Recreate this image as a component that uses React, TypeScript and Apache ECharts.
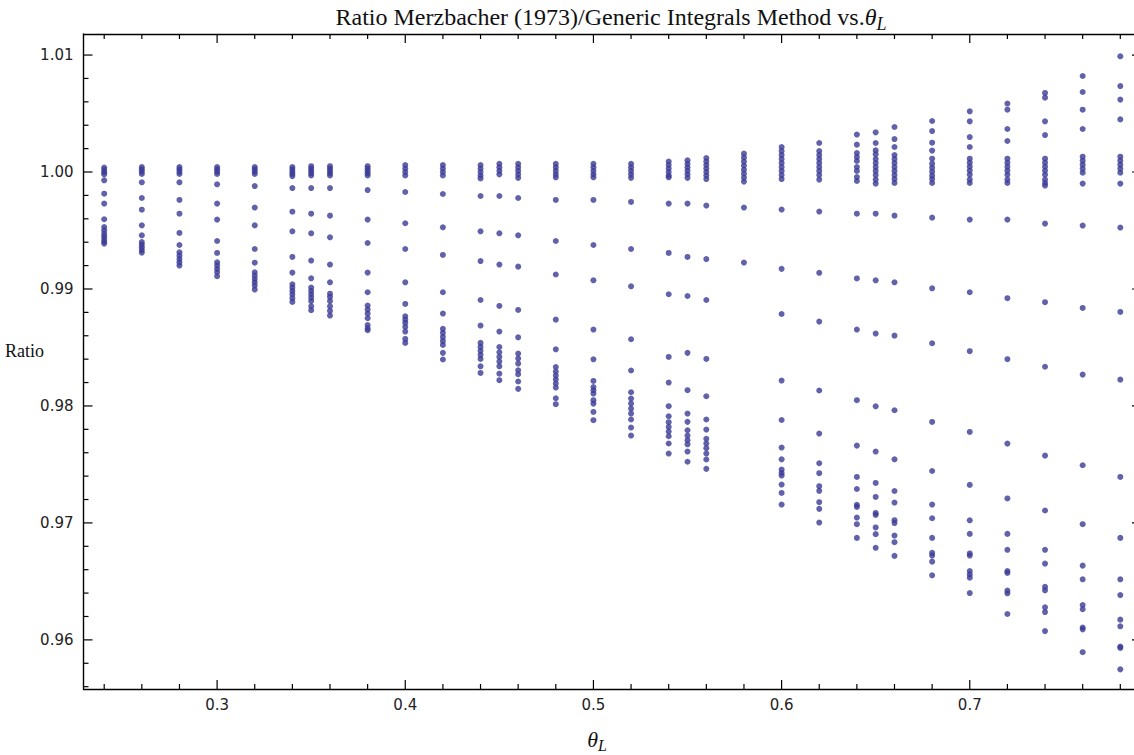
import React, { useEffect, useRef } from "react";
import * as echarts from "echarts";

const thetaL = [0.24, 0.26, 0.28, 0.3, 0.32, 0.34, 0.35, 0.36, 0.38, 0.4, 0.42, 0.44, 0.45, 0.46, 0.48, 0.5, 0.52, 0.54, 0.55, 0.56, 0.58, 0.6, 0.62, 0.64, 0.65, 0.66, 0.68, 0.7, 0.72, 0.74, 0.76, 0.78];

const r024 = [1.00038, 1.00018, 0.99998, 0.9998, 0.99929, 0.99815, 0.9973, 0.99596, 0.9953, 0.99502, 0.99473, 0.9945, 0.99427, 0.99405, 0.99388];
const r026 = [1.00043, 1.00023, 1.00003, 0.99983, 0.99912, 0.99778, 0.99678, 0.99544, 0.99459, 0.99401, 0.99379, 0.99356, 0.99333, 0.99311];
const r028 = [1.00043, 1.00023, 1.00003, 0.99983, 0.99912, 0.99761, 0.99644, 0.99479, 0.99376, 0.99314, 0.99285, 0.99256, 0.99228, 0.992];
const r030 = [1.00043, 1.00023, 1.00003, 0.99983, 0.99895, 0.9973, 0.99593, 0.9941, 0.99308, 0.99228, 0.992, 0.99171, 0.99143, 0.99109];
const r032 = [1.00043, 1.00023, 1.00003, 0.99983, 0.9988, 0.99696, 0.99544, 0.99342, 0.99225, 0.99143, 0.99114, 0.99085, 0.99057, 0.99029, 0.98995];
const r034 = [1.00043, 1.00023, 1.00003, 0.99983, 0.99965, 0.99863, 0.99661, 0.99493, 0.99274, 0.9914, 0.9904, 0.99012, 0.98983, 0.98955, 0.98921, 0.98889];
const r035 = [1.0005, 1.0003, 1.0001, 0.9999, 0.9997, 0.99863, 0.99644, 0.99476, 0.99243, 0.99091, 0.99012, 0.98983, 0.98955, 0.98926, 0.98897, 0.98852, 0.98818];
const r036 = [1.0005, 1.0003, 1.0001, 0.9999, 0.9997, 0.99863, 0.99627, 0.99442, 0.99209, 0.99057, 0.9896, 0.98932, 0.98897, 0.98852, 0.98812, 0.98773];
const r038 = [1.0005, 1.0003, 1.0001, 0.9999, 0.9997, 0.99846, 0.99593, 0.99393, 0.9914, 0.98972, 0.98858, 0.98824, 0.9879, 0.9875, 0.98692, 0.98664, 0.98647];
const r040 = [1.0006, 1.0003, 1.0, 0.9997, 0.99829, 0.99562, 0.99342, 0.99057, 0.98872, 0.98767, 0.98738, 0.9871, 0.98675, 0.98636, 0.98573, 0.98539];
const r042 = [1.0006, 1.0003, 1.0, 0.9997, 0.99812, 0.99527, 0.99291, 0.98972, 0.9879, 0.98659, 0.98625, 0.9859, 0.98556, 0.98522, 0.98454, 0.98397];
const r044 = [1.0006, 1.0003, 1.0, 0.9997, 0.99945, 0.99795, 0.99493, 0.99239, 0.98906, 0.98687, 0.98539, 0.98505, 0.98471, 0.98437, 0.98402, 0.98339, 0.98282];
const r045 = [1.0007, 1.0004, 1.0001, 0.9998, 0.99795, 0.99476, 0.99209, 0.98855, 0.98636, 0.98504, 0.98459, 0.98419, 0.98379, 0.98339, 0.98276, 0.9822];
const r046 = [1.0007, 1.0004, 1.0001, 0.9998, 0.9995, 0.99778, 0.99459, 0.99191, 0.98821, 0.98587, 0.98448, 0.98405, 0.98362, 0.98305, 0.98271, 0.98209, 0.98146];
const r048 = [1.0007, 1.0004, 1.0001, 0.9998, 0.99955, 0.99761, 0.9941, 0.99124, 0.98738, 0.98484, 0.98333, 0.98294, 0.9826, 0.98226, 0.98192, 0.98157, 0.98066, 0.98015];
const r050 = [1.0007, 1.0004, 1.0001, 0.9998, 0.99955, 0.99761, 0.99376, 0.99074, 0.98653, 0.98399, 0.98214, 0.98162, 0.98134, 0.98106, 0.98049, 0.9802, 0.97949, 0.97878];
const r052 = [1.0007, 1.0004, 1.0001, 0.9998, 0.9995, 0.99744, 0.99342, 0.99023, 0.9857, 0.98303, 0.98117, 0.98063, 0.9802, 0.97977, 0.97935, 0.97884, 0.97815, 0.97747];
const r054 = [1.0009, 1.0006, 1.0003, 1.0, 0.9997, 0.99955, 0.9973, 0.99308, 0.98955, 0.98419, 0.982, 0.97998, 0.97912, 0.97861, 0.97821, 0.97781, 0.97741, 0.97679, 0.97593];
const r055 = [1.001, 1.0007, 1.0004, 1.0001, 0.9998, 0.9995, 0.9973, 0.99274, 0.9894, 0.98454, 0.98135, 0.97935, 0.97864, 0.97792, 0.97747, 0.97707, 0.97672, 0.9761, 0.97523];
const r056 = [1.0012, 1.0009, 1.0006, 1.0003, 1.0, 0.9997, 0.9994, 0.99713, 0.99256, 0.98906, 0.98402, 0.98083, 0.97884, 0.97798, 0.97719, 0.97679, 0.97639, 0.97593, 0.97542, 0.97462];
const r058 = [1.00157, 1.00123, 1.00089, 1.00055, 1.0002, 0.99986, 0.99952, 0.99918, 0.99696, 0.99226];
const r060 = [1.00214, 1.00179, 1.00145, 1.00111, 1.00077, 1.00043, 1.00009, 0.99974, 0.9994, 0.99679, 0.99172, 0.98786, 0.98217, 0.9788, 0.97644, 0.97544, 0.97456, 0.97427, 0.97405, 0.97328, 0.97256, 0.97157];
const r062 = [1.00248, 1.00179, 1.00145, 1.00111, 1.00077, 1.00043, 1.00009, 0.99974, 0.99935, 0.99662, 0.99138, 0.98721, 0.98132, 0.97764, 0.9751, 0.97425, 0.97314, 0.97274, 0.97177, 0.9712, 0.97003];
const r064 = [1.0032, 1.00234, 1.00162, 1.00128, 1.00094, 1.00043, 1.00009, 0.99957, 0.99923, 0.99644, 0.9909, 0.98653, 0.98049, 0.97661, 0.97393, 0.9729, 0.97154, 0.97137, 0.97046, 0.96989, 0.96872];
const r065 = [1.00339, 1.00248, 1.00185, 1.00151, 1.00111, 1.00077, 1.00043, 1.00009, 0.99974, 0.99935, 0.99901, 0.99644, 0.99074, 0.98619, 0.97997, 0.9761, 0.97342, 0.97222, 0.97085, 0.97068, 0.96961, 0.96904, 0.96787];
const r066 = [1.00385, 1.00282, 1.00214, 1.00145, 1.00111, 1.00077, 1.00043, 1.00009, 0.99974, 0.9994, 0.99906, 0.99627, 0.99057, 0.98601, 0.97963, 0.97544, 0.97273, 0.97174, 0.97023, 0.96999, 0.96892, 0.96835, 0.96718];
const r068 = [1.00436, 1.0035, 1.00251, 1.00183, 1.00114, 1.00071, 1.00037, 1.00003, 0.99969, 0.9994, 0.99906, 0.9961, 0.99006, 0.98536, 0.97863, 0.97444, 0.97157, 0.9704, 0.96872, 0.96744, 0.96721, 0.96669, 0.96552];
const r070 = [1.00519, 1.00433, 1.00299, 1.00214, 1.00114, 1.0008, 1.00046, 1.00012, 0.99977, 0.99935, 0.99906, 0.99593, 0.98972, 0.98468, 0.97778, 0.97325, 0.97022, 0.96906, 0.96739, 0.96721, 0.96589, 0.9656, 0.96532, 0.964];
const r072 = [1.00585, 1.00533, 1.00368, 1.00265, 1.00114, 1.0008, 1.00046, 1.00012, 0.99977, 0.99935, 0.99906, 0.99593, 0.98921, 0.984, 0.97678, 0.97209, 0.96906, 0.9677, 0.96589, 0.96572, 0.96421, 0.96398, 0.96221];
const r074 = [1.00676, 1.00636, 1.00433, 1.00316, 1.00114, 1.0008, 1.00046, 1.00012, 0.99977, 0.99935, 0.99906, 0.99884, 0.99559, 0.98887, 0.98335, 0.97576, 0.97106, 0.9677, 0.96652, 0.96453, 0.96424, 0.96278, 0.96238, 0.96075];
const r076 = [1.00821, 1.00684, 1.00533, 1.00368, 1.00131, 1.00097, 1.00063, 1.00029, 0.99994, 0.99901, 0.99542, 0.98838, 0.98268, 0.97493, 0.96989, 0.96635, 0.96518, 0.96298, 0.96262, 0.96106, 0.9609, 0.95895];
const r078 = [1.00989, 1.00735, 1.00619, 1.0045, 1.00131, 1.00097, 1.00063, 1.00029, 0.99994, 0.99901, 0.99525, 0.98804, 0.98225, 0.97393, 0.96872, 0.96518, 0.96383, 0.96173, 0.96116, 0.95943, 0.95931, 0.95748];

const ratioColumns = [r024, r026, r028, r030, r032, r034, r035, r036, r038, r040, r042, r044, r045, r046, r048, r050, r052, r054, r055, r056, r058, r060, r062, r064, r065, r066, r068, r070, r072, r074, r076, r078];

const xMajorTicks = [0.3, 0.4, 0.5, 0.6, 0.7];
const xMinorTicks = [0.24, 0.26, 0.28, 0.32, 0.34, 0.36, 0.38, 0.42, 0.44, 0.46, 0.48, 0.52, 0.54, 0.56, 0.58, 0.62, 0.64, 0.66, 0.68, 0.72, 0.74, 0.76, 0.78];
const yMajorTicks = [0.96, 0.97, 0.98, 0.99, 1.0, 1.01];
const yMinorTicks = [0.956, 0.958, 0.962, 0.964, 0.966, 0.968, 0.972, 0.974, 0.976, 0.978, 0.982, 0.984, 0.986, 0.988, 0.992, 0.994, 0.996, 0.998, 1.002, 1.004, 1.006, 1.008];

const X_MIN = 0.229;
const X_MAX = 0.791;
const Y_MIN = 0.9558;
const Y_MAX = 1.0118;

const SERIF = "'Liberation Serif', 'Times New Roman', serif";
const SANS = "'DejaVu Sans', Tahoma, sans-serif";

function xAxis(position: string, withLabels: boolean) {
  return {
    type: "value",
    position,
    min: X_MIN,
    max: X_MAX,
    axisLine: { show: true, onZero: false, lineStyle: { color: "#000", width: 1.4 } },
    axisTick: { show: false },
    axisLabel: {
      show: withLabels,
      customValues: xMajorTicks,
      margin: 8,
      color: "#222",
      fontFamily: SANS,
      fontSize: 15,
      formatter: (v: number) => v.toFixed(1),
    },
    splitLine: { show: false },
  };
}

function yAxis(position: string, withLabels: boolean) {
  return {
    type: "value",
    position,
    min: Y_MIN,
    max: Y_MAX,
    axisLine: { show: true, onZero: false, lineStyle: { color: "#000", width: 1.4 } },
    axisTick: { show: false },
    axisLabel: {
      show: withLabels,
      customValues: yMajorTicks,
      margin: 10,
      color: "#222",
      fontFamily: SANS,
      fontSize: 15,
      formatter: (v: number) => v.toFixed(2),
    },
    splitLine: { show: false },
  };
}

export default function App() {
  const ref = useRef<HTMLDivElement>(null);
  useEffect(() => {
    document.body.style.margin = "0";
    const chart = echarts.init(ref.current!, null, { renderer: "svg" });
    const points = thetaL.flatMap((t, i) => ratioColumns[i].map((v) => [t, v]));
    // tick items: [x, y, length, orientation(0 = x-axis tick, 1 = y-axis tick)]
    const tickItems = [
      ...xMajorTicks.map((v) => [v, Y_MIN, 9, 0]),
      ...xMinorTicks.map((v) => [v, Y_MIN, 5, 0]),
      ...yMajorTicks.map((v) => [X_MIN, v, 9, 1]),
      ...yMinorTicks.map((v) => [X_MIN, v, 5, 1]),
    ];
    const tickStyle = { stroke: "#000", lineWidth: 1.2 };
    chart.setOption({
      animation: false,
      backgroundColor: "#fff",
      grid: { left: 83.5, top: 34, width: 1057.5, height: 655 },
      xAxis: [xAxis("bottom", true), xAxis("top", false)],
      yAxis: [yAxis("left", true), yAxis("right", false)],
      series: [
        {
          type: "scatter",
          xAxisIndex: 0,
          yAxisIndex: 0,
          data: points,
          symbol: "circle",
          symbolSize: 6,
          itemStyle: { color: "#3b3b96" },
          silent: true,
          z: 3,
        },
        {
          type: "custom",
          xAxisIndex: 0,
          yAxisIndex: 0,
          data: tickItems,
          silent: true,
          clip: false,
          z: 4,
          renderItem: (params: any, api: any) => {
            const len = api.value(2);
            const orient = api.value(3);
            if (orient === 0) {
              const b = api.coord([api.value(0), Y_MIN]);
              const t = api.coord([api.value(0), Y_MAX]);
              return {
                type: "group",
                children: [
                  { type: "line", shape: { x1: b[0], y1: b[1], x2: b[0], y2: b[1] - len }, style: tickStyle },
                  { type: "line", shape: { x1: t[0], y1: t[1], x2: t[0], y2: t[1] + len }, style: tickStyle },
                ],
              };
            }
            const l = api.coord([X_MIN, api.value(1)]);
            const r = api.coord([X_MAX, api.value(1)]);
            return {
              type: "group",
              children: [
                { type: "line", shape: { x1: l[0], y1: l[1], x2: l[0] + len, y2: l[1] }, style: tickStyle },
                { type: "line", shape: { x1: r[0], y1: r[1], x2: r[0] - len, y2: r[1] }, style: tickStyle },
              ],
            };
          },
        },
      ],
      graphic: [
        {
          type: "text",
          x: 611,
          y: 17,
          style: {
            text: "Ratio Merzbacher (1973)/Generic Integrals Method vs.{t|θ}{s|L}",
            fontFamily: SERIF,
            fontSize: 24,
            fill: "#111",
            align: "center",
            verticalAlign: "middle",
            rich: {
              t: { fontFamily: SERIF, fontSize: 24, fontStyle: "italic", fill: "#111" },
              s: { fontFamily: SERIF, fontSize: 18, fontStyle: "italic", fill: "#111", padding: [14, 0, 0, 0] },
            },
          },
        },
        {
          type: "text",
          x: 5,
          y: 351,
          style: {
            text: "Ratio",
            fontFamily: SERIF,
            fontSize: 18,
            fill: "#111",
            align: "left",
            verticalAlign: "middle",
          },
        },
        {
          type: "text",
          x: 597,
          y: 739,
          style: {
            text: "{t|θ}{s|L}",
            fontFamily: SERIF,
            fontSize: 22,
            fill: "#111",
            align: "center",
            verticalAlign: "middle",
            rich: {
              t: { fontFamily: SERIF, fontSize: 22, fontStyle: "italic", fill: "#111" },
              s: { fontFamily: SERIF, fontSize: 16, fontStyle: "italic", fill: "#111", padding: [13, 0, 0, 0] },
            },
          },
        },
      ],
    });
    return () => chart.dispose();
  }, []);
  return (
    <div style={{ position: "fixed", left: 0, top: 0, width: 1134, height: 755, overflow: "hidden", background: "#fff" }}>
      <div ref={ref} style={{ width: 1160, height: 755 }} />
    </div>
  );
}
